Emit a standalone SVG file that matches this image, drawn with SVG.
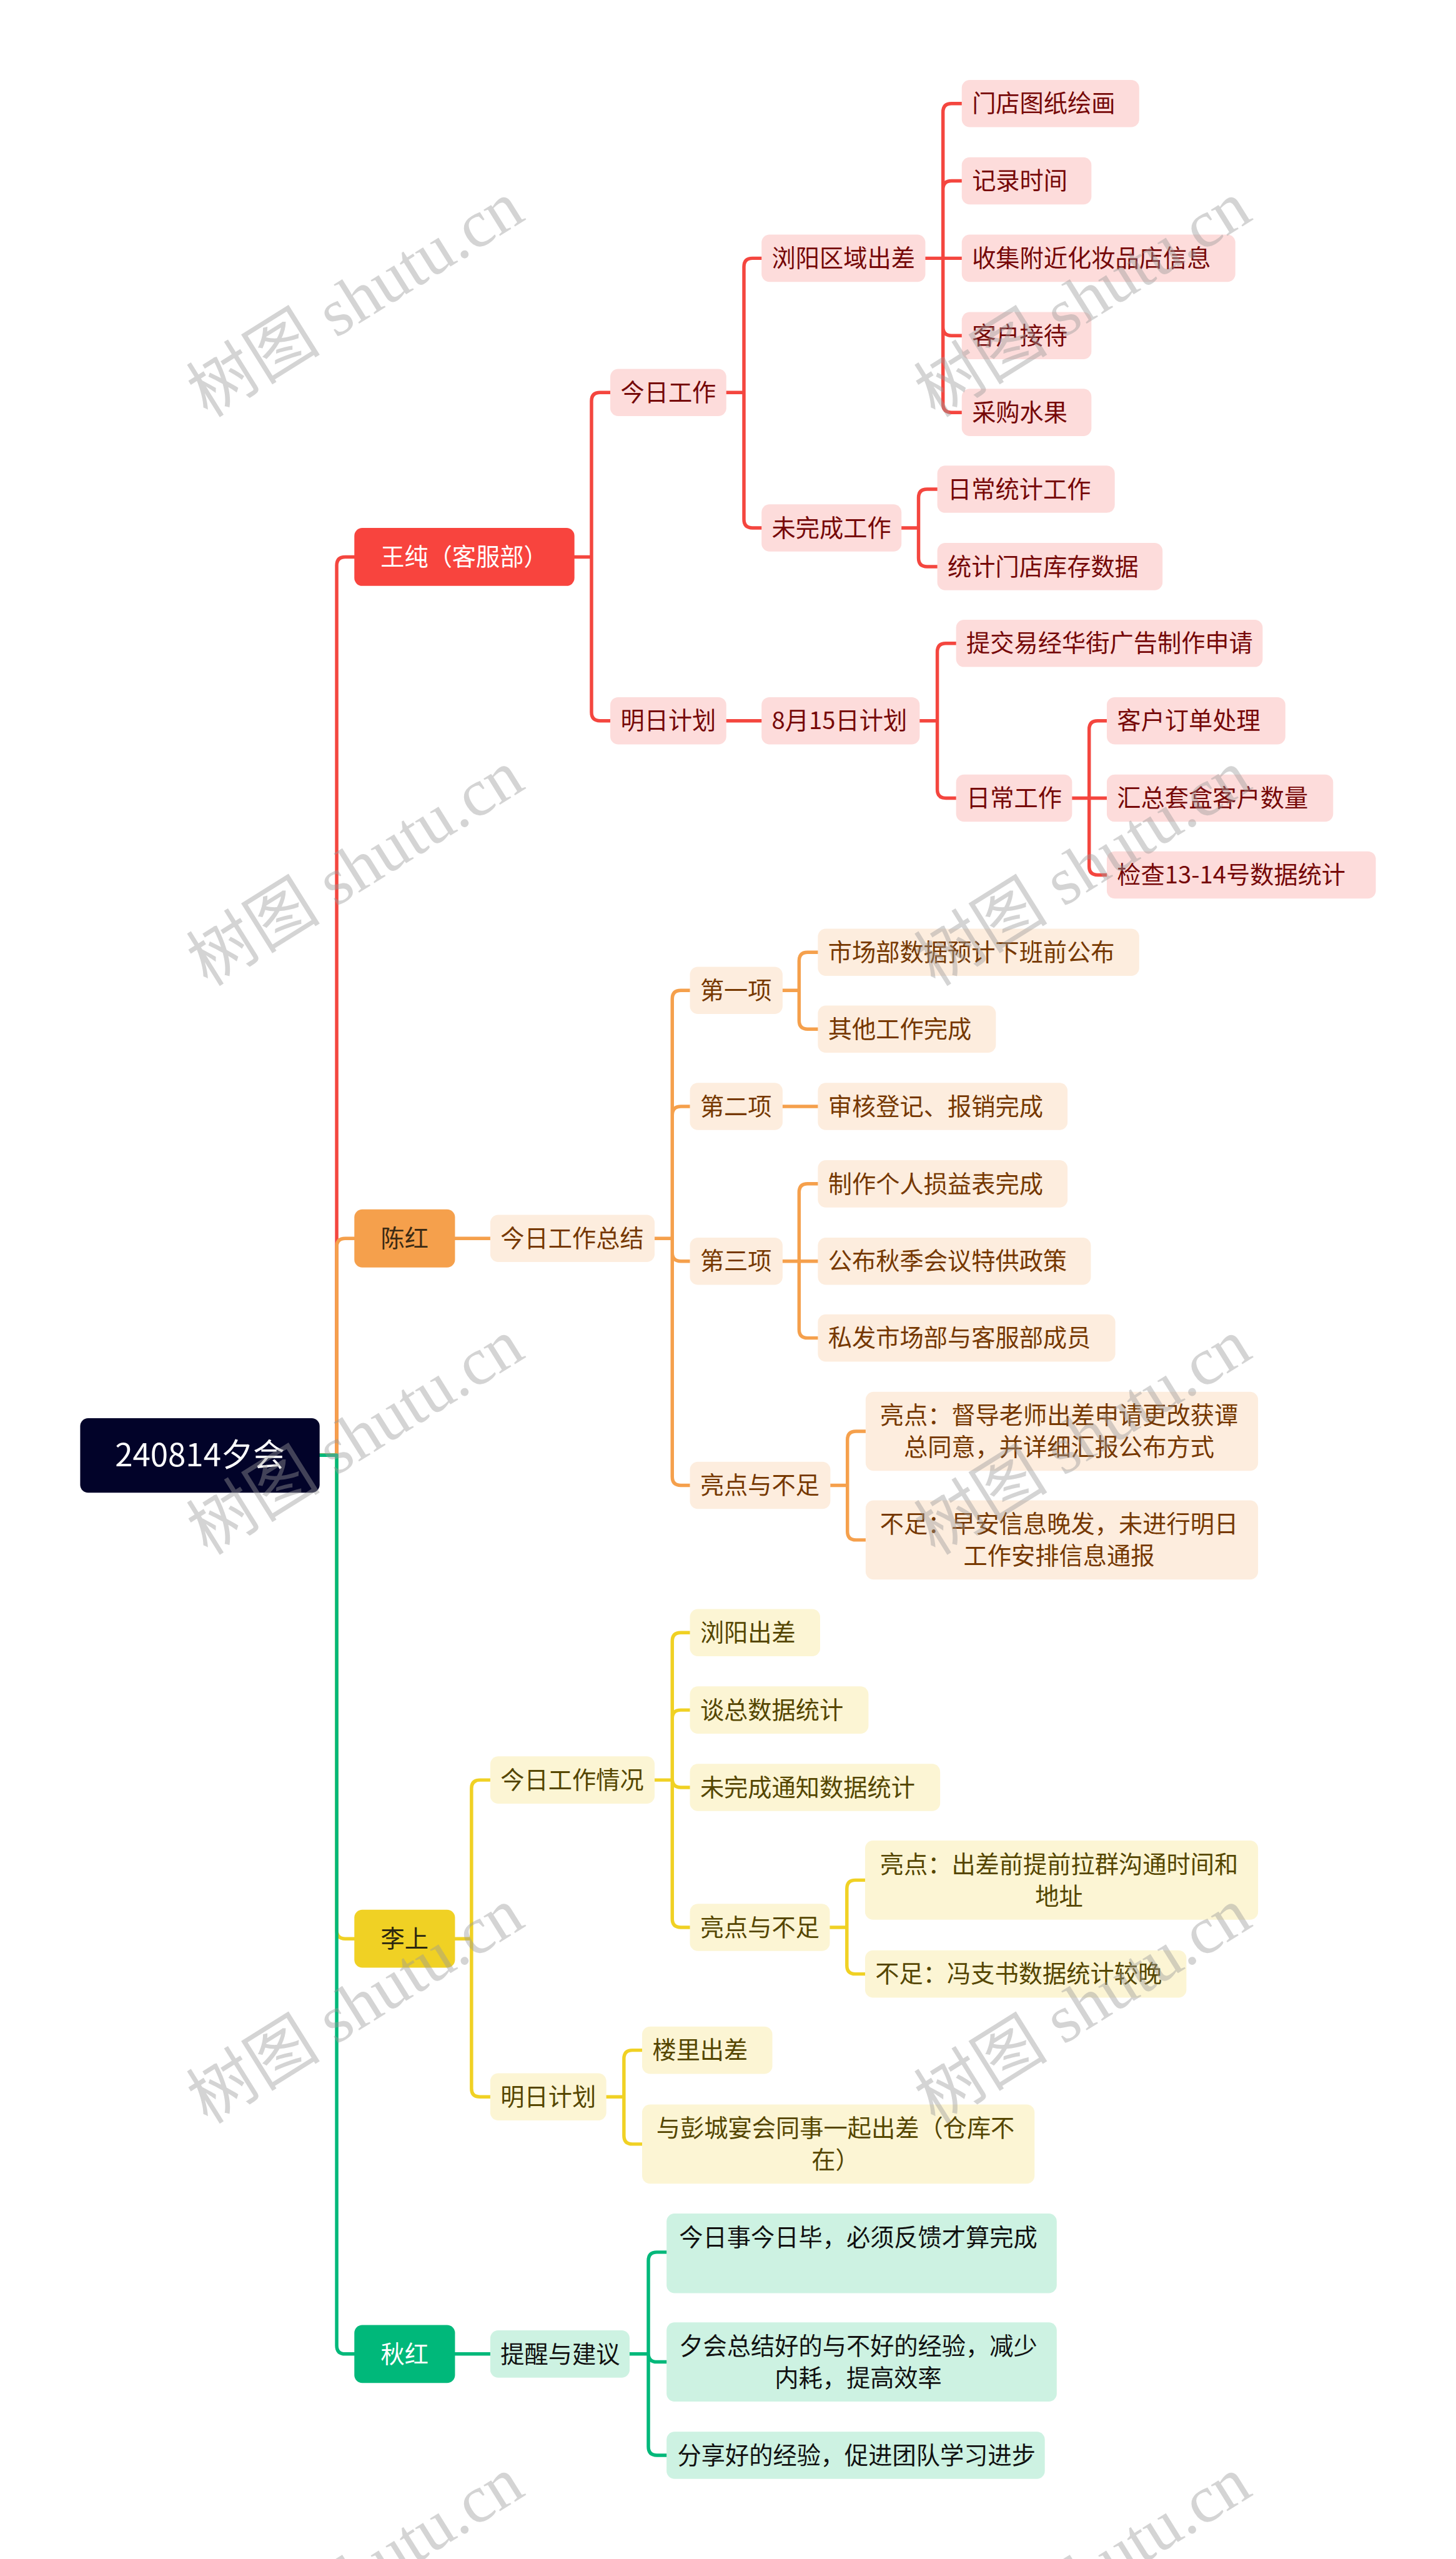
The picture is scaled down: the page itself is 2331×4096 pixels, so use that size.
<svg xmlns="http://www.w3.org/2000/svg" width="2331" height="4096" viewBox="0 0 2331 4096">
<style>
text{font-family:"Noto Sans CJK SC","Noto Sans",sans-serif;text-anchor:middle;font-size:42px}
text.s{text-anchor:start}
.ln{fill:none;stroke-width:6;stroke-linecap:round;stroke-linejoin:round}
.r{stroke:#F4463F}.o{stroke:#F5A04C}.y{stroke:#F0D124}.g{stroke:#00B87A}
.rs{fill:#FDDCDB}.rt{fill:#760808}
.os{fill:#FDEDDE}.ot{fill:#763800}
.ys{fill:#FCF5D4}.yt{fill:#554600}
.gs{fill:#CDF2E2}.gt{fill:#111111}
.wm{font-family:"Liberation Serif","Noto Sans CJK SC",serif;font-size:118px;fill:#9a9a9a;opacity:0.42;text-anchor:middle}
</style>
<rect x="0" y="0" width="2331" height="4096" fill="#ffffff"/>
<g transform="scale(0.91055)">
<g id="connectors">
<!-- red -->
<path class="ln r" d="M562 2558 H592 V994 Q592 979 607 979 H623"/>
<path class="ln r" d="M1010 979 H1040 V705 Q1040 690 1055 690 H1073 M1040 979 V1252 Q1040 1267 1055 1267 H1073"/>
<path class="ln r" d="M1277 690 H1308 V469 Q1308 454 1323 454 H1339 M1308 690 V913 Q1308 928 1323 928 H1339"/>
<path class="ln r" d="M1627 454 H1658 V197 Q1658 182 1673 182 H1691 M1658 454 V333 Q1658 318 1673 318 H1691 M1658 454 H1691 M1658 454 V575 Q1658 590 1673 590 H1691 M1658 454 V710 Q1658 725 1673 725 H1691"/>
<path class="ln r" d="M1585 928 H1615 V875 Q1615 860 1630 860 H1648 M1615 928 V981 Q1615 996 1630 996 H1648"/>
<path class="ln r" d="M1277 1267 H1339"/>
<path class="ln r" d="M1617 1267 H1648 V1146 Q1648 1131 1663 1131 H1681 M1648 1267 V1388 Q1648 1403 1663 1403 H1681"/>
<path class="ln r" d="M1885 1403 H1915 V1282 Q1915 1267 1930 1267 H1946 M1915 1403 H1946 M1915 1403 V1523 Q1915 1538 1930 1538 H1946"/>
<!-- orange -->
<path class="ln o" d="M562 2558 H592 V2192 Q592 2177 607 2177 H623"/>
<path class="ln o" d="M800 2177 H862"/>
<path class="ln o" d="M1151 2177 H1182 V1756 Q1182 1741 1197 1741 H1213 M1182 2177 V1960 Q1182 1945 1197 1945 H1213 M1182 2177 V2202 Q1182 2217 1197 2217 H1213 M1182 2177 V2596 Q1182 2611 1197 2611 H1213"/>
<path class="ln o" d="M1375 1741 H1405 V1689 Q1405 1674 1420 1674 H1438 M1405 1741 V1794 Q1405 1809 1420 1809 H1438"/>
<path class="ln o" d="M1375 1945 H1438"/>
<path class="ln o" d="M1375 2217 H1405 V2096 Q1405 2081 1420 2081 H1438 M1405 2217 H1438 M1405 2217 V2337 Q1405 2352 1420 2352 H1438"/>
<path class="ln o" d="M1460 2611 H1490 V2531 Q1490 2516 1505 2516 H1522 M1490 2611 V2692 Q1490 2707 1505 2707 H1522"/>
<!-- yellow -->
<path class="ln y" d="M562 2558 H592 V3393 Q592 3408 607 3408 H623"/>
<path class="ln y" d="M800 3408 H829 V3144 Q829 3129 844 3129 H862 M829 3408 V3671 Q829 3686 844 3686 H862"/>
<path class="ln y" d="M1151 3129 H1182 V2885 Q1182 2870 1197 2870 H1213 M1182 3129 V3021 Q1182 3006 1197 3006 H1213 M1182 3129 V3127 Q1182 3142 1197 3142 H1213 M1182 3129 V3373 Q1182 3388 1197 3388 H1213"/>
<path class="ln y" d="M1459 3388 H1489 V3320 Q1489 3305 1504 3305 H1521 M1489 3388 V3455 Q1489 3470 1504 3470 H1521"/>
<path class="ln y" d="M1066 3686 H1097 V3619 Q1097 3604 1112 3604 H1129 M1097 3686 V3754 Q1097 3769 1112 3769 H1129"/>
<!-- green -->
<path class="ln g" d="M562 2558 H592 V4123 Q592 4138 607 4138 H623"/>
<path class="ln g" d="M800 4138 H862"/>
<path class="ln g" d="M1107 4138 H1140 V3974 Q1140 3959 1155 3959 H1172 M1140 4138 V4137 Q1140 4152 1155 4152 H1172 M1140 4138 V4301 Q1140 4316 1155 4316 H1172"/>
</g>

<g id="root"><rect x="141" y="2493" width="421" height="131" rx="14" fill="#020329"/><text x="351.5" y="2578" fill="#ffffff" style="font-size:56px">240814夕会</text></g>

<!-- level 1 -->
<g id="n-wangchun"><rect x="623" y="928" width="387" height="102" rx="14" fill="#F8443E"/><text class="s" x="669" y="994" fill="#ffffff">王纯（客服部）</text></g>
<g id="n-chenhong"><rect x="623" y="2126" width="177" height="102" rx="14" fill="#F5A04C"/><text x="711.5" y="2192" fill="#3B2A14">陈红</text></g>
<g id="n-lishang"><rect x="623" y="3357" width="177" height="102" rx="14" fill="#F0D124"/><text x="711.5" y="3423" fill="#2B2710">李上</text></g>
<g id="n-qiuhong"><rect x="623" y="4087" width="177" height="102" rx="14" fill="#00B87A"/><text x="711.5" y="4153" fill="#ffffff">秋红</text></g>

<!-- red branch -->
<g id="n-r1"><rect class="rs" x="1073" y="648.5" width="204" height="83" rx="14"/><text class="rt s" x="1091" y="705">今日工作</text></g>
<g id="n-r2"><rect class="rs" x="1073" y="1225.5" width="204" height="83" rx="14"/><text class="rt s" x="1091" y="1282">明日计划</text></g>
<g id="n-r3"><rect class="rs" x="1339" y="412.5" width="288" height="83" rx="14"/><text class="rt s" x="1357" y="469">浏阳区域出差</text></g>
<g id="n-r4"><rect class="rs" x="1339" y="886.5" width="246" height="83" rx="14"/><text class="rt s" x="1357" y="943">未完成工作</text></g>
<g id="n-r5"><rect class="rs" x="1339" y="1225.5" width="278" height="83" rx="14"/><text class="rt s" x="1357" y="1282">8月15日计划</text></g>
<g id="n-r6"><rect class="rs" x="1691" y="140.5" width="312" height="83" rx="14"/><text class="rt s" x="1709" y="197">门店图纸绘画</text></g>
<g id="n-r7"><rect class="rs" x="1691" y="276.5" width="228" height="83" rx="14"/><text class="rt s" x="1709" y="333">记录时间</text></g>
<g id="n-r8"><rect class="rs" x="1691" y="412.5" width="481" height="83" rx="14"/><text class="rt s" x="1709" y="469">收集附近化妆品店信息</text></g>
<g id="n-r9"><rect class="rs" x="1691" y="548.5" width="228" height="83" rx="14"/><text class="rt s" x="1709" y="605">客户接待</text></g>
<g id="n-r10"><rect class="rs" x="1691" y="683.5" width="228" height="83" rx="14"/><text class="rt s" x="1709" y="740">采购水果</text></g>
<g id="n-r11"><rect class="rs" x="1648" y="818.5" width="312" height="83" rx="14"/><text class="rt s" x="1666" y="875">日常统计工作</text></g>
<g id="n-r12"><rect class="rs" x="1648" y="954.5" width="396" height="83" rx="14"/><text class="rt s" x="1666" y="1011">统计门店库存数据</text></g>
<g id="n-r13"><rect class="rs" x="1681" y="1089.5" width="539" height="83" rx="14"/><text class="rt s" x="1699" y="1146">提交易经华街广告制作申请</text></g>
<g id="n-r14"><rect class="rs" x="1681" y="1361.5" width="204" height="83" rx="14"/><text class="rt s" x="1699" y="1418">日常工作</text></g>
<g id="n-r15"><rect class="rs" x="1946" y="1225.5" width="314" height="83" rx="14"/><text class="rt s" x="1964" y="1282">客户订单处理</text></g>
<g id="n-r16"><rect class="rs" x="1946" y="1361.5" width="398" height="83" rx="14"/><text class="rt s" x="1964" y="1418">汇总套盒客户数量</text></g>
<g id="n-r17"><rect class="rs" x="1946" y="1496.5" width="473" height="83" rx="14"/><text class="rt s" x="1964" y="1553">检查13-14号数据统计</text></g>

<!-- orange branch -->
<g id="n-o1"><rect class="os" x="862" y="2135.5" width="289" height="83" rx="14"/><text class="ot s" x="880" y="2192">今日工作总结</text></g>
<g id="n-o2"><rect class="os" x="1213" y="1699.5" width="163" height="83" rx="14"/><text class="ot s" x="1231" y="1756">第一项</text></g>
<g id="n-o3"><rect class="os" x="1213" y="1903.5" width="163" height="83" rx="14"/><text class="ot s" x="1231" y="1960">第二项</text></g>
<g id="n-o4"><rect class="os" x="1213" y="2175.5" width="163" height="83" rx="14"/><text class="ot s" x="1231" y="2232">第三项</text></g>
<g id="n-o5"><rect class="os" x="1213" y="2569.5" width="247" height="83" rx="14"/><text class="ot s" x="1231" y="2626">亮点与不足</text></g>
<g id="n-o6"><rect class="os" x="1438" y="1632.5" width="565" height="83" rx="14"/><text class="ot s" x="1456" y="1689">市场部数据预计下班前公布</text></g>
<g id="n-o7"><rect class="os" x="1438" y="1767.5" width="313" height="83" rx="14"/><text class="ot s" x="1456" y="1824">其他工作完成</text></g>
<g id="n-o8"><rect class="os" x="1438" y="1903.5" width="439" height="83" rx="14"/><text class="ot s" x="1456" y="1960">审核登记、报销完成</text></g>
<g id="n-o9"><rect class="os" x="1438" y="2039.5" width="439" height="83" rx="14"/><text class="ot s" x="1456" y="2096">制作个人损益表完成</text></g>
<g id="n-o10"><rect class="os" x="1438" y="2175.5" width="480" height="83" rx="14"/><text class="ot s" x="1456" y="2232">公布秋季会议特供政策</text></g>
<g id="n-o11"><rect class="os" x="1438" y="2310.5" width="523" height="83" rx="14"/><text class="ot s" x="1456" y="2367">私发市场部与客服部成员</text></g>
<g id="n-o12"><rect class="os" x="1522" y="2446.5" width="690" height="139" rx="14"/><text class="ot" x="1862" y="2503">亮点：督导老师出差申请更改获谭</text><text class="ot" x="1862" y="2559">总同意，并详细汇报公布方式</text></g>
<g id="n-o13"><rect class="os" x="1522" y="2637.5" width="690" height="139" rx="14"/><text class="ot" x="1862" y="2694">不足：早安信息晚发，未进行明日</text><text class="ot" x="1862" y="2750">工作安排信息通报</text></g>

<!-- yellow branch -->
<g id="n-y1"><rect class="ys" x="862" y="3087.5" width="289" height="83" rx="14"/><text class="yt s" x="880" y="3144">今日工作情况</text></g>
<g id="n-y2"><rect class="ys" x="862" y="3644.5" width="204" height="83" rx="14"/><text class="yt s" x="880" y="3701">明日计划</text></g>
<g id="n-y3"><rect class="ys" x="1213" y="2828.5" width="229" height="83" rx="14"/><text class="yt s" x="1231" y="2885">浏阳出差</text></g>
<g id="n-y4"><rect class="ys" x="1213" y="2964.5" width="314" height="83" rx="14"/><text class="yt s" x="1231" y="3021">谈总数据统计</text></g>
<g id="n-y5"><rect class="ys" x="1213" y="3100.5" width="440" height="83" rx="14"/><text class="yt s" x="1231" y="3157">未完成通知数据统计</text></g>
<g id="n-y6"><rect class="ys" x="1213" y="3346.5" width="246" height="83" rx="14"/><text class="yt s" x="1231" y="3403">亮点与不足</text></g>
<g id="n-y7"><rect class="ys" x="1521" y="3235.5" width="691" height="139" rx="14"/><text class="yt" x="1862" y="3292">亮点：出差前提前拉群沟通时间和</text><text class="yt" x="1862" y="3348">地址</text></g>
<g id="n-y8"><rect class="ys" x="1521" y="3428.5" width="565" height="83" rx="14"/><text class="yt s" x="1539" y="3485">不足：冯支书数据统计较晚</text></g>
<g id="n-y9"><rect class="ys" x="1129" y="3562.5" width="229" height="83" rx="14"/><text class="yt s" x="1147" y="3619">楼里出差</text></g>
<g id="n-y10"><rect class="ys" x="1129" y="3699.5" width="690" height="139" rx="14"/><text class="yt" x="1469" y="3756">与彭城宴会同事一起出差（仓库不</text><text class="yt" x="1469" y="3812">在）</text></g>

<!-- green branch -->
<g id="n-g1"><rect class="gs" x="862" y="4096.5" width="245" height="83" rx="14"/><text class="gt s" x="880" y="4153">提醒与建议</text></g>
<g id="n-g2"><rect class="gs" x="1172" y="3891" width="686" height="140" rx="14"/><text class="gt" x="1509" y="3948">今日事今日毕，必须反馈才算完成</text></g>
<g id="n-g3"><rect class="gs" x="1172" y="4082.5" width="686" height="139" rx="14"/><text class="gt" x="1509" y="4139">夕会总结好的与不好的经验，减少</text><text class="gt" x="1509" y="4195">内耗，提高效率</text></g>
<g id="n-g4"><rect class="gs" x="1172" y="4274.5" width="665" height="83" rx="14"/><text class="gt s" x="1191" y="4331">分享好的经验，促进团队学习进步</text></g>

<!-- watermarks -->
<g id="watermarks">
<text class="wm" transform="translate(646 560) rotate(-32)">树图 shutu.cn</text>
<text class="wm" transform="translate(1925 560) rotate(-32)">树图 shutu.cn</text>
<text class="wm" transform="translate(646 1560) rotate(-32)">树图 shutu.cn</text>
<text class="wm" transform="translate(1925 1560) rotate(-32)">树图 shutu.cn</text>
<text class="wm" transform="translate(646 2560) rotate(-32)">树图 shutu.cn</text>
<text class="wm" transform="translate(1925 2560) rotate(-32)">树图 shutu.cn</text>
<text class="wm" transform="translate(646 3560) rotate(-32)">树图 shutu.cn</text>
<text class="wm" transform="translate(1925 3560) rotate(-32)">树图 shutu.cn</text>
<text class="wm" transform="translate(646 4560) rotate(-32)">树图 shutu.cn</text>
<text class="wm" transform="translate(1925 4560) rotate(-32)">树图 shutu.cn</text>
</g>
</g>
</svg>
